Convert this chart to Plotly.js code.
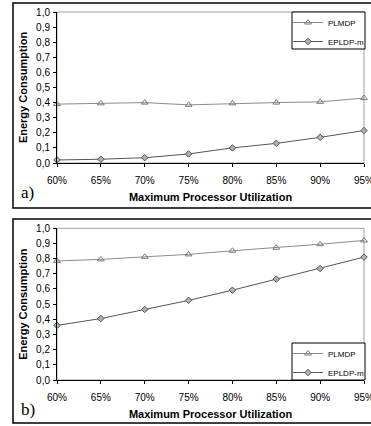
<!DOCTYPE html>
<html><head><meta charset="utf-8">
<script src="https://cdn.plot.ly/plotly-3.0.1.min.js"></script>
<style>html,body{margin:0;padding:0;background:#fff}#c{width:371px;height:426px}</style>
</head><body><div id="c"></div>
<script>
const categories = ['60%','65%','70%','75%','80%','85%','90%','95%'];
const yTicks = [0,0.1,0.2,0.3,0.4,0.5,0.6,0.7,0.8,0.9,1.0];
const yTickText = ['0,0','0,1','0,2','0,3','0,4','0,5','0,6','0,7','0,8','0,9','1,0'];
const plmdpA = [0.39,0.395,0.40,0.385,0.395,0.40,0.405,0.43];
const epldpA = [0.02,0.025,0.035,0.06,0.10,0.13,0.17,0.215];
const plmdpB = [0.785,0.795,0.812,0.828,0.852,0.872,0.895,0.92];
const epldpB = [0.36,0.405,0.465,0.525,0.592,0.665,0.735,0.81];

const W = 371, H = 426;
const px = v => v / W, py = v => 1 - v / H;
const FAM = 'Liberation Sans, Arial, sans-serif';
const font = {family: FAM, size: 10, color: '#000'};

function tr(y, name, xa, ya, leg, kind) {
  const isP = kind === 'p';
  return {
    x: categories, y: y, name: name, xaxis: xa, yaxis: ya, legend: leg,
    type: 'scatter', mode: 'lines+markers', cliponaxis: false,
    line: {color: isP ? '#8c8c8c' : '#555555', width: 1},
    marker: isP ? {symbol: 'triangle-up-open', size: 6, color: '#7a7a7a', line: {width: 1}}
                : {symbol: 'diamond', size: 5, color: '#b0b0b0', line: {color: '#555555', width: 1}}
  };
}

const data = [
  tr(plmdpA, 'PLMDP', 'x', 'y', 'legend', 'p'),
  tr(epldpA, 'EPLDP-m', 'x', 'y', 'legend', 'e'),
  tr(plmdpB, 'PLMDP', 'x2', 'y2', 'legend2', 'p'),
  tr(epldpB, 'EPLDP-m', 'x2', 'y2', 'legend2', 'e')
];

function xaxis(anchor) {
  return {
    domain: [px(57), px(364)], anchor: anchor, type: 'category',
    range: [0, categories.length - 1], fixedrange: true,
    showgrid: false, zeroline: false, showline: true, linecolor: '#000', linewidth: 1,
    ticks: 'outside', ticklen: 3, tickcolor: '#000', tickfont: font, ticklabelstandoff: 5,
    title: {text: 'Maximum Processor Utilization', font: {family: FAM, size: 11, color: '#000', weight: 'bold'}, standoff: 8}
  };
}
function yaxis(anchor, top, bot) {
  return {
    domain: [py(bot), py(top)], anchor: anchor, range: [0, 1],
    tickvals: yTicks, ticktext: yTickText,
    showgrid: false, zeroline: false, showline: true, linecolor: '#000', linewidth: 1,
    ticks: 'outside', ticklen: 3, tickcolor: '#000', tickfont: font, ticklabelstandoff: 1,
    title: {text: 'Energy Consumption', font: {family: FAM, size: 11, color: '#000', weight: 'bold'}, standoff: 6}
  };
}
function legend(top) {
  return {
    x: px(288), y: py(top), xanchor: 'left', yanchor: 'top',
    bgcolor: 'rgba(0,0,0,0)', borderwidth: 0,
    font: {family: FAM, size: 8, color: '#000'}, itemwidth: 30, tracegroupgap: 0
  };
}

const layout = {
  width: W, height: H, margin: {l: 0, r: 0, t: 0, b: 0},
  paper_bgcolor: '#fff', plot_bgcolor: '#fff', showlegend: true,
  xaxis: xaxis('y'), yaxis: yaxis('x', 12, 163),
  xaxis2: xaxis('y2'), yaxis2: yaxis('x2', 228.3, 380),
  legend: legend(8), legend2: legend(339),
  shapes: [
    {type: 'rect', xref: 'paper', yref: 'paper', x0: px(13), x1: px(380), y0: py(208), y1: py(3), line: {color: '#000', width: 1.5}},
    {type: 'rect', xref: 'paper', yref: 'paper', x0: px(13), x1: px(380), y0: py(423), y1: py(219), line: {color: '#000', width: 1.5}},
    {type: 'rect', xref: 'paper', yref: 'paper', layer: 'below', x0: px(57), x1: px(364), y0: py(163), y1: py(12), line: {color: '#a0a0a0', width: 1}},
    {type: 'rect', xref: 'paper', yref: 'paper', layer: 'below', x0: px(57), x1: px(364), y0: py(380), y1: py(228.3), line: {color: '#a0a0a0', width: 1}},
    {type: 'rect', xref: 'paper', yref: 'paper', x0: px(292), x1: px(365), y0: py(49), y1: py(12), fillcolor: '#fff', layer: 'below', line: {color: '#000', width: 1}},
    {type: 'rect', xref: 'paper', yref: 'paper', x0: px(292), x1: px(365), y0: py(380), y1: py(343), fillcolor: '#fff', layer: 'below', line: {color: '#000', width: 1}}
  ],
  annotations: [
    {text: 'a)', xref: 'paper', yref: 'paper', x: px(19), y: py(192), xanchor: 'left', yanchor: 'middle', showarrow: false, font: {family: 'Liberation Serif, Times New Roman, serif', size: 17, color: '#000'}},
    {text: 'b)', xref: 'paper', yref: 'paper', x: px(19), y: py(409), xanchor: 'left', yanchor: 'middle', showarrow: false, font: {family: 'Liberation Serif, Times New Roman, serif', size: 17, color: '#000'}}
  ]
};

Plotly.newPlot('c', data, layout, {staticPlot: true, displayModeBar: false});
</script></body></html>
